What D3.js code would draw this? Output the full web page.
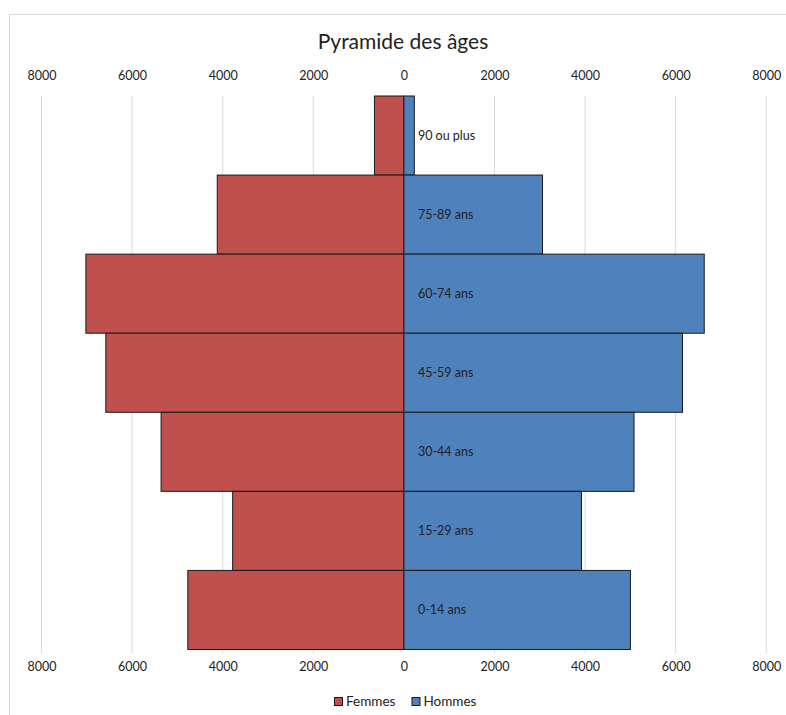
<!DOCTYPE html>
<html>
<head>
<meta charset="utf-8">
<script src="https://cdn.jsdelivr.net/npm/d3@7/dist/d3.min.js"></script>
<style>
  html, body { margin: 0; padding: 0; background: #fff; }
  svg { display: block; }
  text { font-family: Lato, "Open Sans", sans-serif; fill: #222; }
</style>
</head>
<body>
<svg id="chart" width="786" height="715"></svg>
<script>
// Age groups, top to bottom
const categories = ["90 ou plus", "75-89 ans", "60-74 ans", "45-59 ans", "30-44 ans", "15-29 ans", "0-14 ans"];
// Population per age group
const femmes = [650, 4120, 7020, 6580, 5360, 3780, 4770];
const hommes = [230, 3060, 6630, 6150, 5080, 3920, 5000];
// Axis ticks (absolute values shown on both sides)
const tickValues = [-8000, -6000, -4000, -2000, 0, 2000, 4000, 6000, 8000];
const seriesNames = ["Femmes", "Hommes"];
const seriesColors = ["#C0504D", "#4F81BD"];

const svg = d3.select("#chart");

// Chart frame
svg.append("rect")
  .attr("x", 9.5).attr("y", 14.5)
  .attr("width", 800).attr("height", 720)
  .attr("fill", "#fff").attr("stroke", "#d9d9d9");

const plot = { left: 41.5, right: 766.3, top: 96, bottom: 649.5 };

const x = d3.scaleLinear().domain([-8000, 8000]).range([plot.left, plot.right]);
const y = d3.scaleBand().domain(categories).range([plot.top, plot.bottom]).padding(0);

// Vertical gridlines
svg.append("g").selectAll("line")
  .data(tickValues.filter(d => d !== 0))
  .join("line")
  .attr("x1", d => x(d)).attr("x2", d => x(d))
  .attr("y1", plot.top).attr("y2", plot.bottom + 4)
  .attr("stroke", "#d9d9d9").attr("stroke-width", 1);

// Axes (top and bottom), labels only
const fmt = d => String(Math.abs(d));
const axisTop = d3.axisTop(x).tickValues(tickValues).tickFormat(fmt).tickSize(0).tickPadding(0);
const axisBottom = d3.axisBottom(x).tickValues(tickValues).tickFormat(fmt).tickSize(0).tickPadding(0);

const gTop = svg.append("g").attr("transform", "translate(0,80)").call(axisTop);
const gBot = svg.append("g").attr("transform", "translate(0,662)").call(axisBottom);
[gTop, gBot].forEach(g => {
  g.select(".domain").remove();
  g.selectAll("text").attr("font-size", 12.5).attr("font-family", "Lato, sans-serif").attr("fill", "#222");
});
gTop.selectAll("text").attr("dy", 0);
gBot.selectAll("text").attr("dy", "0.71em");

// Bars
const bars = svg.append("g");
bars.selectAll("rect.f")
  .data(categories.map((c, i) => ({ c, v: femmes[i] })))
  .join("rect")
  .attr("class", "f")
  .attr("x", d => x(-d.v)).attr("y", d => y(d.c))
  .attr("width", d => x(0) - x(-d.v)).attr("height", y.bandwidth())
  .attr("fill", seriesColors[0]).attr("stroke", "#1a1a1a").attr("stroke-width", 1);

bars.selectAll("rect.h")
  .data(categories.map((c, i) => ({ c, v: hommes[i] })))
  .join("rect")
  .attr("class", "h")
  .attr("x", x(0)).attr("y", d => y(d.c))
  .attr("width", d => x(d.v) - x(0)).attr("height", y.bandwidth())
  .attr("fill", seriesColors[1]).attr("stroke", "#1a1a1a").attr("stroke-width", 1);

// Category labels
svg.append("g").selectAll("text")
  .data(categories)
  .join("text")
  .attr("x", x(0) + 14)
  .attr("y", d => y(d) + y.bandwidth() / 2 + 4.5)
  .attr("font-size", 12.5)
  .text(d => d);

// Title
svg.append("text")
  .attr("x", 403).attr("y", 49)
  .attr("text-anchor", "middle")
  .attr("font-size", 21)
  .text("Pyramide des âges");

// Legend
const legend = svg.append("g").attr("transform", "translate(334,697)");
const items = [
  { name: seriesNames[0], color: seriesColors[0], dx: 0 },
  { name: seriesNames[1], color: seriesColors[1], dx: 77.5 }
];
items.forEach(it => {
  legend.append("rect").attr("x", it.dx + 0.5).attr("y", 0.5).attr("width", 8).attr("height", 8)
    .attr("fill", it.color).attr("stroke", "#1a1a1a");
  legend.append("text").attr("x", it.dx + 12).attr("y", 8.8).attr("font-size", 13.5).text(it.name);
});
</script>
</body>
</html>
